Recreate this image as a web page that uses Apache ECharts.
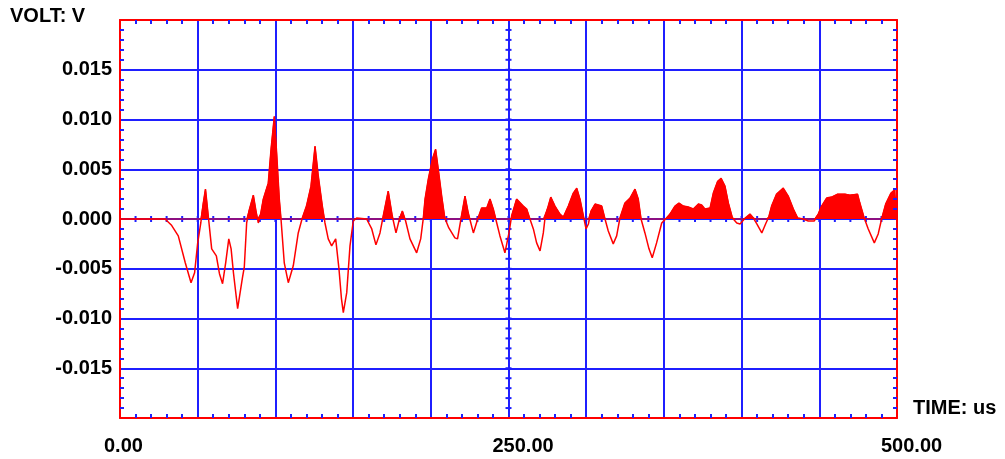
<!DOCTYPE html>
<html>
<head>
<meta charset="utf-8">
<title>VOLT / TIME</title>
<script src="https://cdn.jsdelivr.net/npm/echarts@6/dist/echarts.min.js"></script>
<style>
  html, body { margin: 0; padding: 0; background: #ffffff; }
  #chart { width: 1005px; height: 459px; }
</style>
</head>
<body>
<div id="chart"></div>
<script>
// Sample times (us)
const timeUs = [
  0, 10, 20, 29, 33, 37.5, 42, 45.7, 48, 50, 52, 53.5, 55, 57, 59, 62, 64, 66, 68, 70,
  71.5, 73, 75.7, 78.7, 80, 81.5, 83, 85.8, 87.5, 89, 90.5, 92.2, 95.4, 97.2, 99.3, 100.8, 102.5, 103.6, 105.7, 108.3,
  111.5, 114.7, 117.3, 120, 122.9, 125.5, 127.6, 130.2, 131.9, 134, 136.2, 138.8, 140.9, 142.5, 143.7, 145.9, 148, 150.1, 152.3, 158.7,
  162, 164.7, 167.3, 169.4, 172.6, 175.2, 177.6, 179.5, 181.7, 183.8, 186.6, 190.9, 193.5, 195.2, 196.3, 198.4, 201, 203.1, 204.8, 207,
  209, 211.6, 215.5, 217.2, 219.4, 222, 224.1, 227.4, 230.2, 232.7, 236, 238.1, 240.2, 241.8, 244.5, 247.7, 250.3, 252, 255.2, 259.5,
  261.7, 263.8, 266, 268.1, 270.3, 272.4, 273.5, 275.6, 277.2, 279.9, 283.1, 285.3, 288.5, 291.7, 293.9, 296, 298.2, 299.9, 301.4, 303.1,
  305.7, 310, 312.1, 314.2, 317.4, 319.6, 321.7, 324.9, 328.2, 331.4, 333.5, 335.3, 337.8, 340.4, 342.5, 345.3, 348.6, 351.1, 353.9, 357.1,
  359.7, 362.5, 365.7, 368.9, 372.2, 374.3, 376.4, 379.7, 381.8, 384.6, 386.8, 389.3, 391.5, 394.1, 396.9, 399, 402.3, 405.4, 407.6, 409.8,
  413, 415.7, 417.5, 419.3, 422.5, 426.8, 430, 433.3, 436.1, 439.7, 442.9, 446.8, 449.3, 451.5, 454.7, 457.9, 461.8, 466.5, 469.7, 474.6,
  476.1, 478.9, 481.5, 485.4, 487.9, 490.1, 492.7, 496.1, 499.1, 500
];

// Measured voltage (V) at each sample time
const voltV = [
  0, 0, 0, 0, -0.0006, -0.0017, -0.0044, -0.0064, -0.0054, -0.0024, -0.0004, 0.0015, 0.0030, 0, -0.0030, -0.0037, -0.0055, -0.0065, -0.0044, -0.0020,
  -0.0030, -0.0054, -0.0090, -0.0060, -0.0048, -0.0004, 0.0008, 0.0024, 0.0008, -0.0004, 0.0005, 0.0020, 0.0036, 0.0070, 0.0103, 0.0066, 0.0020, 0, -0.0044, -0.0064,
  -0.0047, -0.0014, 0.0001, 0.0013, 0.0033, 0.0073, 0.0043, 0.0013, -0.0004, -0.0020, -0.0027, -0.0020, -0.0050, -0.0080, -0.0094, -0.0074, -0.0027, -0.0002, 0.0001, 0,
  -0.0010, -0.0026, -0.0014, 0.0003, 0.0028, 0.0003, -0.0014, -0.0002, 0.0008, -0.0002, -0.0020, -0.0034, -0.0020, 0.0001, 0.0020, 0.0040, 0.0060, 0.0070, 0.0050, 0.0023,
  0.0001, -0.0009, -0.0019, -0.0020, 0, 0.0023, 0.0006, -0.0014, 0, 0.0011, 0.0011, 0.0020, 0.0010, 0, -0.0017, -0.0034, -0.0014, 0.0003, 0.0020, 0.0013,
  0.0010, 0, -0.0010, -0.0024, -0.0032, -0.0014, 0.0001, 0.0013, 0.0022, 0.0013, 0.0005, 0.0002, 0.0013, 0.0026, 0.0031, 0.0020, 0.0003, -0.0010, -0.0005, 0.0008,
  0.0015, 0.0013, 0, -0.0012, -0.0025, -0.0017, 0.0001, 0.0016, 0.0021, 0.0030, 0.0020, 0, -0.0014, -0.0030, -0.0039, -0.0024, -0.0004, 0, 0.0005, 0.0013,
  0.0016, 0.0013, 0.0012, 0.0010, 0.0015, 0.0014, 0.0010, 0.0011, 0.0026, 0.0038, 0.0041, 0.0033, 0.0016, 0.0001, -0.0004, -0.0005, 0.0001, 0.0005, 0.0001, -0.0005,
  -0.0014, -0.0004, 0.0002, 0.0013, 0.0025, 0.0031, 0.0023, 0.0010, 0.0001, 0, -0.0002, -0.0002, 0.0005, 0.0013, 0.0021, 0.0022, 0.0025, 0.0025, 0.0024, 0.0025,
  0.0016, 0.0001, -0.0010, -0.0024, -0.0015, 0, 0.0015, 0.0026, 0.0030, 0.0030
];

// Axis ranges and tick spacing
const timeRange = [0, 500];
const timeStep = 50;
const timeMinorStep = 10;
const timeLabelStep = 250;
const voltRange = [-0.02, 0.02];
const voltStep = 0.005;
const voltMinorStep = 0.001;
const voltLabelLimit = 0.015;

const RED = '#ff0000';
const BLUE = '#1f1fff';
const FONT = 'Liberation Sans, Arial, sans-serif';

const waveform = timeUs.map((t, i) => [t, voltV[i]]);

// Positive half of the waveform, with zero crossings inserted so the fill edges are clean
function positivePart(xs, ys) {
  const out = [];
  for (let i = 0; i < xs.length; i++) {
    if (i > 0) {
      const y0 = ys[i - 1], y1 = ys[i];
      if ((y0 > 0 && y1 < 0) || (y0 < 0 && y1 > 0)) {
        const xc = xs[i - 1] + (xs[i] - xs[i - 1]) * (y0 / (y0 - y1));
        out.push([xc, 0]);
      }
    }
    out.push([xs[i], Math.max(0, ys[i])]);
  }
  return out;
}

// Small cross ticks along the centre lines (t = 250 and V = 0)
const centreTicks = [];
for (let t = timeRange[0] + timeMinorStep; t < timeRange[1]; t += timeMinorStep) {
  centreTicks.push([t, 0, 0]);
}
for (let k = Math.round(voltRange[0] / voltMinorStep) + 1; k < Math.round(voltRange[1] / voltMinorStep); k++) {
  centreTicks.push([(timeRange[0] + timeRange[1]) / 2, +(k * voltMinorStep).toFixed(4), 1]);
}

const borderX = (pos, withLabels) => ({
  type: 'value', position: pos, min: timeRange[0], max: timeRange[1], interval: timeStep,
  z: 3,
  axisLine: { show: true, onZero: false, lineStyle: { color: RED, width: 2 } },
  axisTick: { show: false, inside: true },
  minorTick: { show: true, splitNumber: timeStep / timeMinorStep, length: 4, lineStyle: { color: BLUE, width: 2 } },
  splitLine: { show: false },
  axisLabel: withLabels ? {
    show: true, margin: 18, align: 'left', padding: [0, 0, 0, -16],
    color: '#000', fontFamily: FONT, fontWeight: 'bold', fontSize: 20,
    formatter: v => (Math.abs(v % timeLabelStep) < 1e-9 ? v.toFixed(2) : '')
  } : { show: false },
  name: withLabels ? 'TIME: us' : '',
  nameLocation: 'end', nameGap: 16,
  nameTextStyle: { color: '#000', fontFamily: FONT, fontWeight: 'bold', fontSize: 20, align: 'left', verticalAlign: 'bottom' }
});

const borderY = (pos, withLabels) => ({
  type: 'value', position: pos, min: voltRange[0], max: voltRange[1], interval: voltStep,
  z: 3,
  axisLine: { show: true, onZero: false, lineStyle: { color: RED, width: 2 } },
  axisTick: { show: false, inside: true },
  minorTick: { show: true, splitNumber: Math.round(voltStep / voltMinorStep), length: 4, lineStyle: { color: BLUE, width: 2 } },
  splitLine: { show: false },
  axisLabel: withLabels ? {
    show: true, margin: 8,
    color: '#000', fontFamily: FONT, fontWeight: 'bold', fontSize: 20,
    formatter: v => {
      if (Math.abs(v) > voltLabelLimit + 1e-9) return '';
      if (Math.abs(v) < 1e-9) return '0.000';
      return v.toFixed(3);
    }
  } : { show: false }
});

const chart = echarts.init(document.getElementById('chart'), null, { renderer: 'canvas' });

chart.setOption({
  animation: false,
  backgroundColor: '#ffffff',
  title: {
    text: 'VOLT: V', left: 10, top: 6, padding: 0,
    textStyle: { color: '#000', fontFamily: FONT, fontWeight: 'bold', fontSize: 20 }
  },
  grid: { left: 120, top: 20, width: 777, height: 398, containLabel: false },
  xAxis: [
    borderX('bottom', true),
    borderX('top', false),
    {
      type: 'value', position: 'bottom', min: timeRange[0], max: timeRange[1], interval: timeStep, z: 0,
      axisLine: { show: false, onZero: false }, axisTick: { show: false }, axisLabel: { show: false },
      splitLine: { show: true, lineStyle: { color: BLUE, width: 2 } }
    }
  ],
  yAxis: [
    borderY('left', true),
    borderY('right', false),
    {
      type: 'value', position: 'left', min: voltRange[0], max: voltRange[1], interval: voltStep, z: 0,
      axisLine: { show: false, onZero: false }, axisTick: { show: false }, axisLabel: { show: false },
      splitLine: { show: true, lineStyle: { color: BLUE, width: 2 } }
    }
  ],
  series: [
    {
      type: 'custom', xAxisIndex: 0, yAxisIndex: 0, z: 1, silent: true,
      data: centreTicks,
      renderItem: (params, api) => {
        const p = api.coord([api.value(0), api.value(1)]);
        const half = 3;
        const shape = api.value(2) === 0
          ? { x1: p[0], y1: p[1] - half, x2: p[0], y2: p[1] + half }
          : { x1: p[0] - half, y1: p[1], x2: p[0] + half, y2: p[1] };
        return { type: 'line', shape, style: { stroke: BLUE, lineWidth: 2 } };
      }
    },
    {
      name: 'positive', type: 'line', xAxisIndex: 0, yAxisIndex: 0, z: 2,
      data: positivePart(timeUs, voltV),
      showSymbol: false, silent: true,
      lineStyle: { color: RED, width: 1 },
      areaStyle: { color: RED, opacity: 1 }
    },
    {
      name: 'VOLT', type: 'line', xAxisIndex: 0, yAxisIndex: 0, z: 2,
      data: waveform,
      showSymbol: false, silent: true,
      lineStyle: { color: RED, width: 1.5 }
    }
  ]
});
</script>
</body>
</html>
